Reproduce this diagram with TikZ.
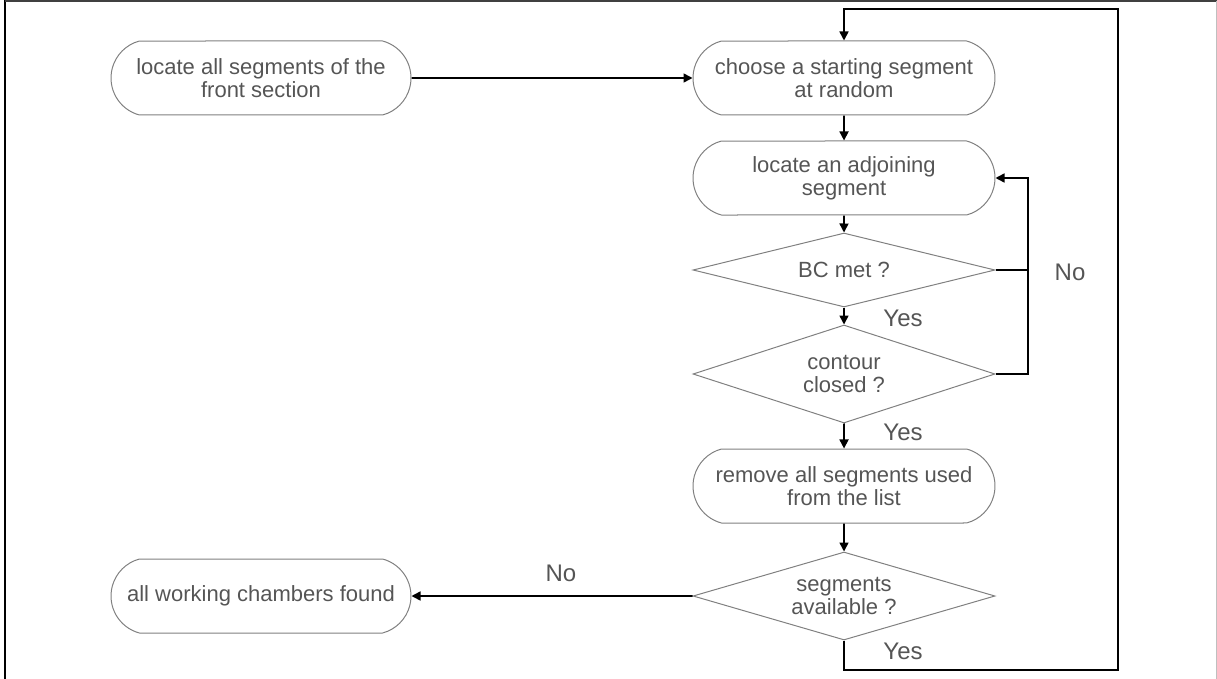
\documentclass[tikz,border=0pt]{standalone}
\usepackage{fontspec}
\setmainfont{Liberation Sans}
\usetikzlibrary{arrows.meta}
\usetikzlibrary{shapes.geometric}
\usetikzlibrary{shapes.misc}

\definecolor{linegray}{RGB}{128,128,128}
\definecolor{textgray}{RGB}{85,85,85}

\begin{document}
\begin{tikzpicture}[x=1pt,y=-1pt,
    terminal/.style={rounded rectangle, rounded rectangle arc length=150, draw=linegray, line width=1pt,
      text=textgray, align=center, minimum width=302pt, minimum height=74pt, inner sep=0pt,
      font=\fontsize{22}{23}\selectfont},
    decision/.style={diamond, aspect=4, draw=linegray, line width=1pt, text=textgray, align=center,
      minimum width=302pt, inner sep=0pt, font=\fontsize{22}{23}\selectfont},
    flow/.style={line width=1.6pt, -{Triangle[length=9pt,width=9pt]}},
    answer/.style={text=textgray, inner sep=0pt, font=\fontsize{24}{26}\selectfont}]

      \useasboundingbox (0,0) rectangle (1217,679);
      \draw[line width=2pt] (5,0) -- (5,679);
      \draw[line width=1.5pt, color=darkgray] (5,1) -- (1217,1);
      \draw[line width=1pt, color=lightgray] (1216,1) -- (1216,679);

      \node[terminal, minimum width=300pt] (front) at (261,78) {locate all segments of the\\front section};
      \node[terminal] (start) at (844,78) {choose a starting segment\\at random};
      \node[terminal] (adjoin) at (844,178) {locate an adjoining\\segment};
      \node[decision, minimum height=74pt] (bc) at (844,270) {BC met ?};
      \node[decision, minimum height=98pt] (closed) at (844,374) {contour\\closed ?};
      \node[terminal] (remove) at (844,486) {remove all segments used\\from the list};
      \node[decision, minimum height=88pt] (avail) at (844,596) {segments\\available ?};
      \node[terminal, minimum width=300pt] (found) at (261,596) {all working chambers found};

      \coordinate (noturn) at (1028,270);
      \coordinate (loopbottom) at (1118,670);
      \coordinate (looptop) at (1118,9);

      \draw[flow] (front) -- (start);
      \draw[flow] (start) -- (adjoin);
      \draw[flow] (adjoin) -- (bc);
      \draw[flow] (bc) -- (closed);
      \draw[flow] (closed) -- (remove);
      \draw[flow] (remove) -- (avail);
      \draw[flow] (avail) -- (found);
      \draw[line width=1.6pt] (closed.east) -| (noturn);
      \draw[flow] (bc.east) -- (noturn) |- (adjoin.east);
      \draw[flow] (avail.south) |- (loopbottom) -- (looptop) -| (start.north);

      \node[answer] (bcyes) at (903,318) {Yes};
      \node[answer] (closedyes) at (903,432) {Yes};
      \node[answer] (availyes) at (903,651) {Yes};
      \node[answer] (bcno) at (1070,272) {No};
      \node[answer] (availno) at (561,573) {No};
    \end{tikzpicture}
\end{document}
